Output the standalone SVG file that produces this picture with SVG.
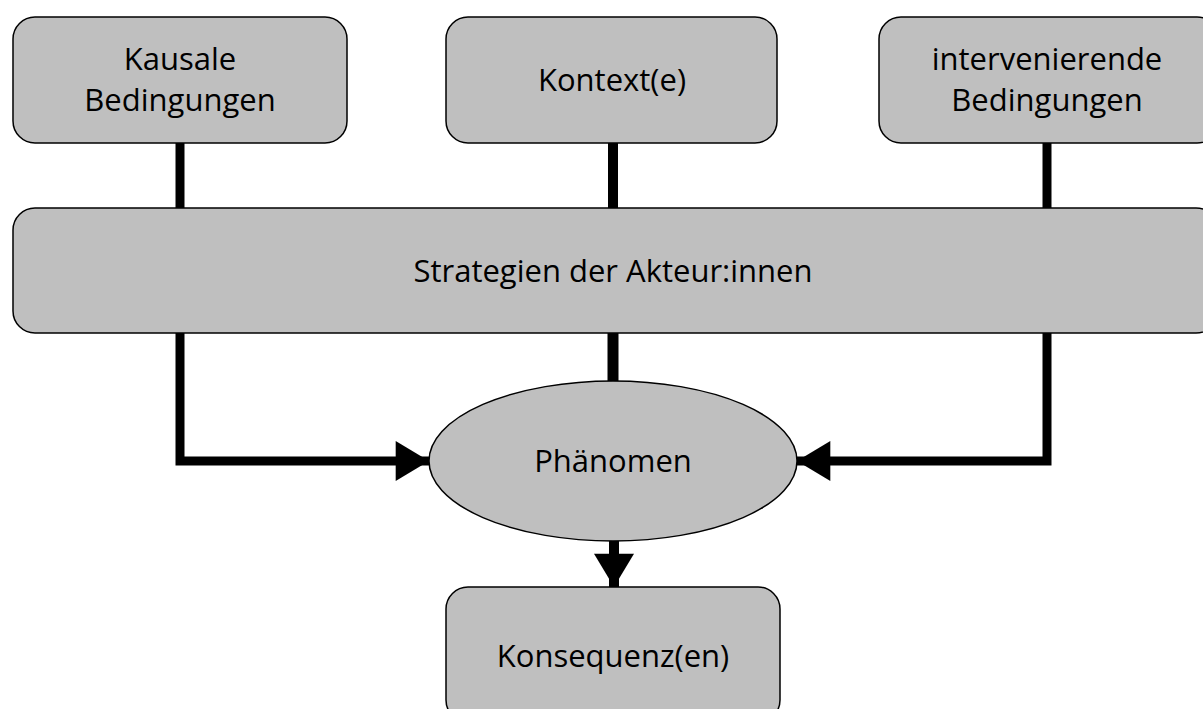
<svg xmlns="http://www.w3.org/2000/svg" width="1203" height="709" viewBox="0 0 1203 709">
<style>
.box{fill:#bfbfbf;stroke:#000;stroke-width:1.5}
.t{font-family:"Open Sans","Liberation Sans",sans-serif;font-size:31px;fill:#000;text-anchor:middle}
.c{stroke:#000;fill:none;stroke-width:9}
</style>
<defs>
<marker id="ah" markerUnits="userSpaceOnUse" markerWidth="40" markerHeight="40" viewBox="0 0 30 36" refX="30" refY="18" orient="auto">
<path d="M0,0 L30,18 L0,36 Z" fill="#000"/>
</marker>
</defs>
<rect width="1203" height="709" fill="#fff"/>
<g id="connectors">
<line class="c" x1="180" y1="143" x2="180" y2="208"/>
<line class="c" x1="613" y1="143" x2="613" y2="208" style="stroke-width:10"/>
<line class="c" x1="1047" y1="143" x2="1047" y2="208"/>
<line class="c" x1="613" y1="333" x2="613" y2="381" style="stroke-width:11"/>
<path class="c" d="M180,333 V461 H429" marker-end="url(#ah)"/>
<path class="c" d="M1047,333 V461 H797" marker-end="url(#ah)"/>
<line class="c" x1="614" y1="541" x2="614" y2="587" style="stroke-width:10" marker-end="url(#ah)"/>
</g>
<g id="kausale">
<rect class="box" x="13" y="17" width="334" height="126" rx="22"/>
<text class="t" x="180" y="70">Kausale</text>
<text class="t" x="180" y="111">Bedingungen</text>
</g>
<g id="kontext">
<rect class="box" x="446" y="17" width="331" height="126" rx="22"/>
<text class="t" x="612" y="91">Kontext(e)</text>
</g>
<g id="intervenierende">
<rect class="box" x="879" y="17" width="340" height="126" rx="22"/>
<text class="t" x="1047" y="70">intervenierende</text>
<text class="t" x="1047" y="111">Bedingungen</text>
</g>
<g id="strategien">
<rect class="box" x="13" y="208" width="1205" height="125" rx="22"/>
<text class="t" x="613" y="282">Strategien der Akteur:innen</text>
</g>
<g id="phaenomen">
<ellipse class="box" cx="613" cy="461" rx="184" ry="80"/>
<text class="t" x="613" y="472">Phänomen</text>
</g>
<g id="konsequenz">
<rect class="box" x="446" y="587" width="334" height="135" rx="22"/>
<text class="t" x="613" y="667">Konsequenz(en)</text>
</g>
</svg>
